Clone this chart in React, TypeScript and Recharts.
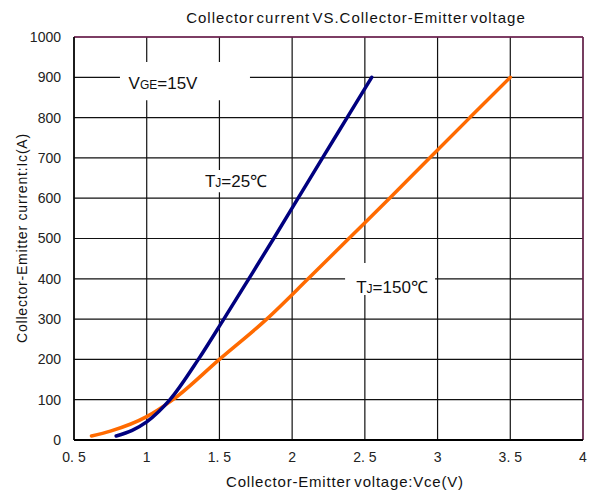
import React from 'react';
import { LineChart, Line, XAxis, YAxis, CartesianGrid, ReferenceLine, ReferenceArea, ReferenceDot } from 'recharts';

const xTicks = [0.5, 1, 1.5, 2, 2.5, 3, 3.5, 4];
const yTicks = [0, 100, 200, 300, 400, 500, 600, 700, 800, 900, 1000];

const tj25Vce = [0.79, 0.9, 1.0, 1.16, 1.355, 1.53, 1.702, 1.873, 2.041, 2.209, 2.378, 2.547];
const tj25Ic = [10, 24, 45, 100, 200, 300, 400, 500, 600, 700, 800, 900];

const tj150Vce = [0.62, 0.75, 1.0, 1.18, 1.5, 1.825, 2.11, 2.39, 2.67, 2.945, 3.222, 3.5];
const tj150Ic = [10, 22, 58, 100, 200, 300, 400, 500, 600, 700, 800, 900];

const tj25 = tj25Vce.map((v, i) => ({ vce: v, ic: tj25Ic[i] }));
const tj150 = tj150Vce.map((v, i) => ({ vce: v, ic: tj150Ic[i] }));

const FONT = '"Liberation Sans", Arial, sans-serif';

const AnnLabel = (props: any) => {
  const { viewBox, main, sub, rest } = props;
  const cx = viewBox ? viewBox.cx ?? viewBox.x + (viewBox.width || 0) / 2 : 0;
  const cy = viewBox ? viewBox.cy ?? viewBox.y + (viewBox.height || 0) / 2 : 0;
  return (
    <text x={cx} y={cy + 6} textAnchor="middle" fontFamily={FONT} fontSize={17} fill="#111">
      <tspan>{main}</tspan>
      <tspan fontSize={12}>{sub}</tspan>
      <tspan>{rest}</tspan>
    </text>
  );
};

const fmtX = (v: number) => String(v).replace('.', '. ');

export default function App() {
  return (
    <div style={{ position: 'absolute', left: 0, top: 0, width: 595, height: 495, background: '#fff', fontFamily: FONT }}>
      <div style={{ position: 'absolute', left: 356, top: 17, transform: 'translate(-50%,-50%)', fontSize: 15, letterSpacing: 1, wordSpacing: -3, whiteSpace: 'nowrap', color: '#111' }}>
        Collector current VS.Collector-Emitter voltage
      </div>
      <div style={{ position: 'absolute', left: 22, top: 238, transform: 'translate(-50%,-50%) rotate(-90deg)', fontSize: 14, letterSpacing: 0.8, whiteSpace: 'nowrap', color: '#111' }}>
        Collector-Emitter current:Ic(A)
      </div>
      <div style={{ position: 'absolute', left: 345, top: 481, transform: 'translate(-50%,-50%)', fontSize: 15, letterSpacing: 0.8, wordSpacing: -2, whiteSpace: 'nowrap', color: '#111' }}>
        Collector-Emitter voltage:Vce(V)
      </div>
      <LineChart width={595} height={495} margin={{ top: 37, right: 12, left: 14, bottom: 25 }}>
        <CartesianGrid stroke="#111" strokeWidth={1.2} horizontalValues={yTicks} verticalValues={xTicks} />
        <XAxis
          dataKey="vce"
          type="number"
          domain={[0.5, 4]}
          ticks={xTicks}
          allowDataOverflow
          height={30}
          tickFormatter={fmtX}
          tickLine={false}
          tickSize={6}
          tickMargin={6}
          axisLine={{ stroke: '#000', strokeWidth: 2 }}
          tick={{ fontSize: 14, fill: '#222', fontFamily: FONT }}
        />
        <YAxis
          dataKey="ic"
          type="number"
          domain={[0, 1000]}
          ticks={yTicks}
          width={60}
          tickLine={false}
          tickSize={6}
          tickMargin={7}
          axisLine={{ stroke: '#000', strokeWidth: 1.5 }}
          tick={{ fontSize: 14, fill: '#222', fontFamily: FONT }}
        />
        <ReferenceLine y={1000} stroke="#7a2458" strokeWidth={1.3} />
        <ReferenceLine x={4} stroke="#7a2458" strokeWidth={1.3} />
        <ReferenceArea x1={0.816} x2={1.71} y1={843} y2={938} fill="#fff" fillOpacity={1} stroke="none" />
        <ReferenceArea x1={1.367} x2={1.862} y1={615} y2={670} fill="#fff" fillOpacity={1} stroke="none" />
        <ReferenceArea x1={2.364} x2={2.983} y1={360} y2={439} fill="#fff" fillOpacity={1} stroke="none" />
        <ReferenceDot x={1.112} y={886} r={0} fill="none" stroke="none" label={<AnnLabel main="V" sub="GE" rest="=15V" />} />
        <ReferenceDot x={1.614} y={643} r={0} fill="none" stroke="none" label={<AnnLabel main="T" sub="J" rest="=25℃" />} />
        <ReferenceDot x={2.687} y={380} r={0} fill="none" stroke="none" label={<AnnLabel main="T" sub="J" rest="=150℃" />} />
        <Line data={tj150} dataKey="ic" type="monotone" stroke="#ff6a00" strokeWidth={3.5} dot={false} isAnimationActive={false} strokeLinecap="round" />
        <Line data={tj25} dataKey="ic" type="monotone" stroke="#00007f" strokeWidth={3.5} dot={false} isAnimationActive={false} strokeLinecap="round" />
      </LineChart>
    </div>
  );
}
